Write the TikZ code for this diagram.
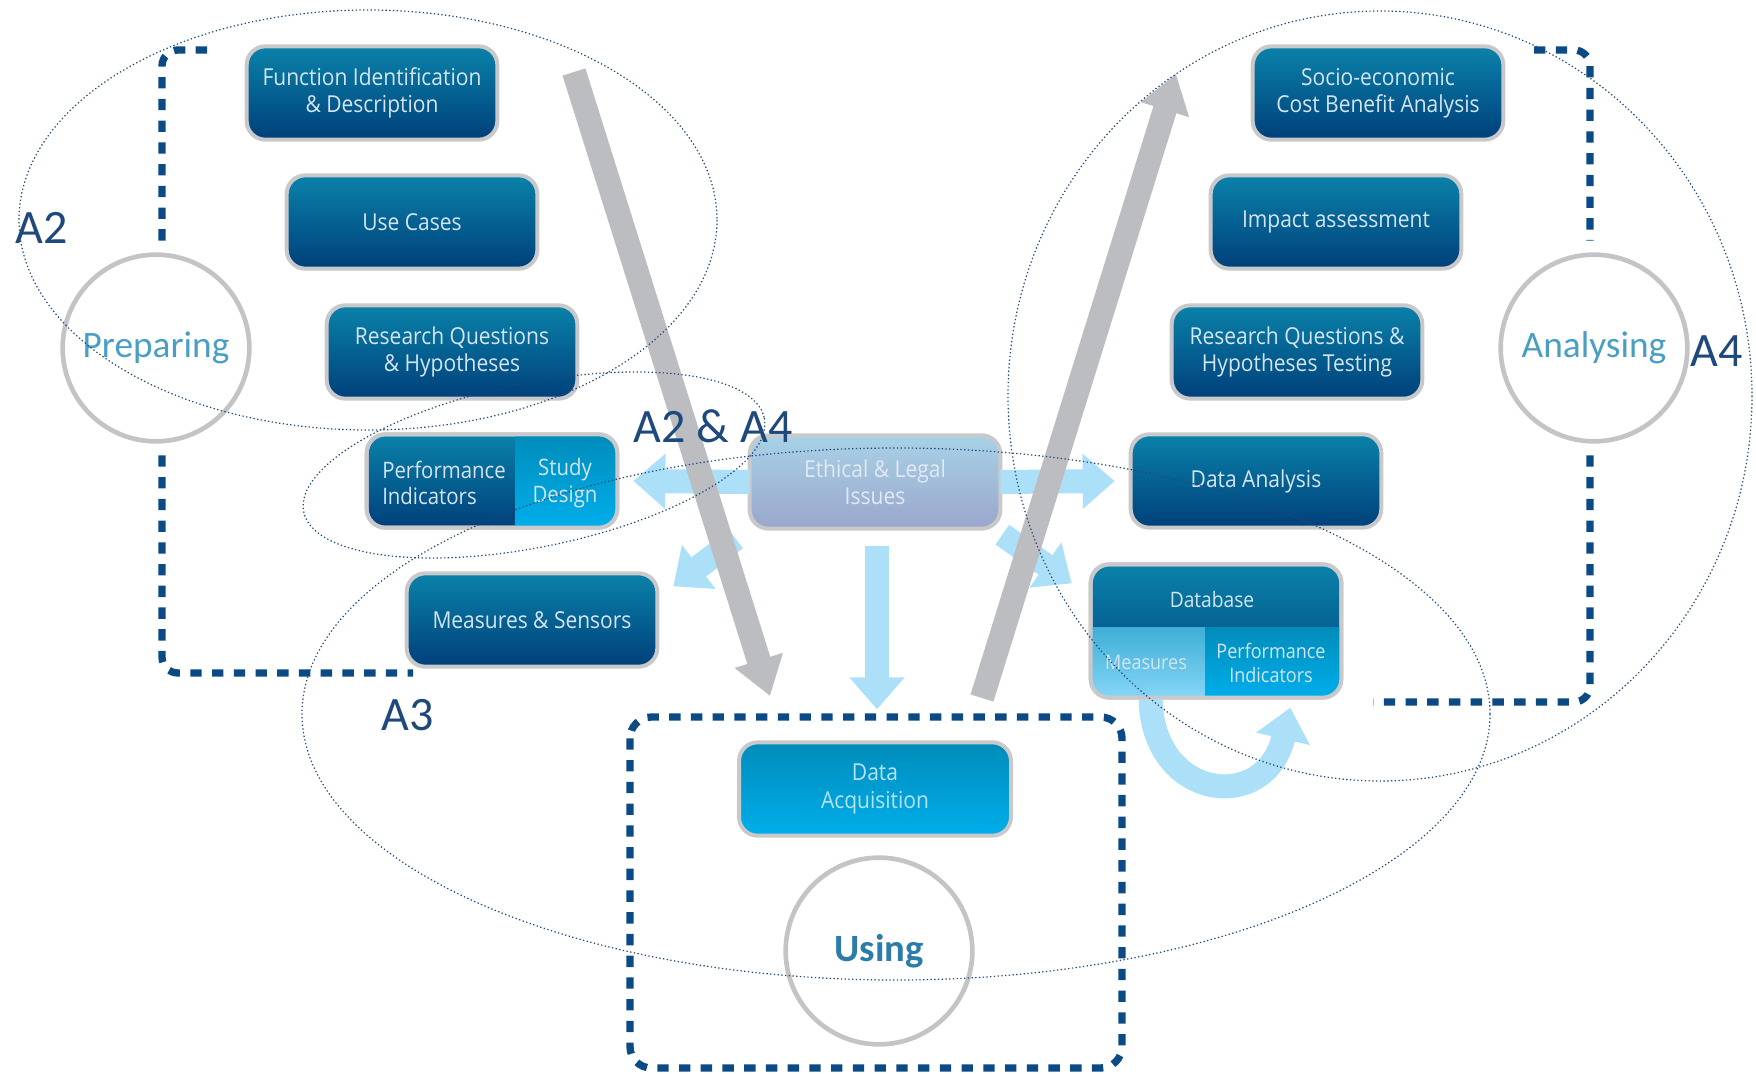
\documentclass[tikz,border=0pt]{standalone}
\usepackage{xcolor}
\usepackage{fontspec}
\usepackage{tikz}
\usetikzlibrary{arrows.meta,calc}

\newfontfamily\boxfont[FakeStretch=0.9]{Open Sans}
\newfontfamily\labfont{Carlito}

\definecolor{navytop}{HTML}{0A82AA}
\definecolor{navybot}{HTML}{003F7A}
\definecolor{cyantop}{HTML}{008CBA}
\definecolor{cyanbot}{HTML}{00AEEB}
\definecolor{paletop}{HTML}{A8D2E6}
\definecolor{palebot}{HTML}{9AA6CC}
\definecolor{skytop}{HTML}{3FAED6}
\definecolor{skybot}{HTML}{86D6F6}
\definecolor{rimgray}{HTML}{C9C9CB}
\definecolor{boxtext}{HTML}{D4E4F0}
\definecolor{paletext}{HTML}{E2E9F3}
\definecolor{acqtext}{HTML}{B8E2F4}
\definecolor{phaseblue}{HTML}{0B4A84}
\definecolor{zoneblue}{HTML}{1F497D}
\definecolor{ringgray}{HTML}{C4C4C6}
\definecolor{flowgray}{HTML}{BCBDC0}
\definecolor{flowblue}{HTML}{ABE0F8}
\definecolor{phasetext}{HTML}{4A9EC4}
\definecolor{usingtext}{HTML}{2C7CAA}

\tikzset{
    stage/.style={draw=rimgray, line width=3pt, rounded corners=14pt, outer sep=0pt,
        minimum width=188pt, minimum height=70pt, align=center, text=boxtext,
        font=\boxfont\fontsize{17.5}{20.5}\selectfont, top color=navytop, bottom color=navybot},
    rim/.style={draw=rimgray, line width=3pt, rounded corners=14pt},
    cell/.style={align=center, text=boxtext, inner sep=0pt, font=\boxfont\fontsize{15}{17.5}\selectfont},
    ring/.style={circle, draw=ringgray, line width=3.5pt, minimum size=140pt, outer sep=0pt,
        font=\labfont\fontsize{28}{30}\selectfont},
    zonelabel/.style={inner sep=0pt, text=zoneblue, font=\labfont\fontsize{36}{38}\selectfont},
    zone/.style={draw=zoneblue, line width=0.9pt, dash pattern=on 1pt off 1.8pt},
    phase/.style={draw=phaseblue, line width=5.5pt, dash pattern=on 8.5pt off 7.8pt, rounded corners=12pt},
    flowgrey/.style={draw=flowgray, line width=18pt, -{Triangle[width=36pt,length=28pt]}},
    flowsky/.style={draw=flowblue, line width=18pt, -{Triangle[width=40pt,length=24pt]}},
}

\begin{document}
\begin{tikzpicture}[x=0.75pt,y=0.75pt,yscale=-1,xscale=1]
    \useasboundingbox (0,0) rectangle (1756,1074);

        % preparing side
        \node[stage] (func) at (372,93) {Function Identification\\\& Description};
        \node[stage] (usecase) at (412,222) {Use Cases};
        \node[stage] (resq) at (452,352) {Research Questions\\\& Hypotheses};
        \node[stage] (perf) at (492,481) {};
        \node[stage] (measure) at (532,620) {Measures \& Sensors};

        % analysing side
        \node[stage] (socio) at (1378,93) {Socio-economic\\Cost Benefit Analysis};
        \node[stage] (impact) at (1336,222) {Impact assessment};
        \node[stage] (hyptest) at (1297,352) {Research Questions \&\\Hypotheses Testing};
        \node[stage] (analysis) at (1256,481) {Data Analysis};
        \node[stage, minimum height=100pt] (db) at (1216,631) {};

        % middle
        \node[stage, top color=paletop, bottom color=palebot, text=paletext] (ethic) at (875,482) {Ethical \& Legal\\Issues};
        \node[stage, minimum width=204pt, top color=cyantop, bottom color=cyanbot, text=acqtext] (acq) at (875,789) {Data\\Acquisition};

        % split cells
        \begin{scope}
            \clip[rounded corners=14pt] (perf.south west) rectangle (perf.north east);
            \shade[top color=cyantop, bottom color=cyanbot] ($(perf.north)+(23,0)$) rectangle (perf.south east);
        \end{scope}
        \draw[rim] (perf.south west) rectangle (perf.north east);
        \node[cell, anchor=west, align=left, font=\boxfont\fontsize{17}{20}\selectfont] (perftxt) at (382,483) {Performance\\Indicators};
        \node[cell, font=\boxfont\fontsize{17}{20}\selectfont] (studytxt) at (565,483) {Study\\Design};

        \begin{scope}
            \clip[rounded corners=14pt] (db.south west) rectangle (db.north east);
            \shade[top color=skytop, bottom color=skybot] (db.south west) rectangle ($(db.center)+(-11,-4)$);
            \shade[top color=cyantop, bottom color=cyanbot] ($(db.center)+(-11,-4)$) rectangle (db.south east);
        \end{scope}
        \draw[rim] (db.south west) rectangle (db.north east);
        \node[cell, font=\boxfont\fontsize{16}{18}\selectfont] (dbtxt) at (1212,599) {Database};
        \node[cell] (dbmeas) at (1146,662) {Measures};
        \node[cell] (dbperf) at (1271,663) {Performance\\Indicators};

        % light arrows
        \draw[flowsky] (ethic.west) -- ($(perf.east)+(16,0)$);
        \draw[flowsky] (ethic.east) -- ($(analysis.west)+(-16,0)$);
        \draw[flowsky] ($(ethic.south)+(2,17)$) -- ($(acq.north)+(2,-33)$);
        \draw[flowsky] ($(ethic.south west)+(-14,10)$) -- ($(measure.north east)+(16,13)$);
        \draw[flowsky] ($(ethic.south east)+(2,6)$) -- ($(db.north west)+(-19,19)$);
        \draw[flowsky] ($(db.south west)+(60,2)$) .. controls ($(db.south west)+(62,102)$) and ($(db.south east)+(-76,117)$) .. ($(db.south east)+(-51,10)$);

        % grey arrows
        \coordinate (downin) at (574,72);
        \coordinate (downout) at (770,696);
        \coordinate (upin) at (982,698);
        \coordinate (upout) at (1176,74);
        \draw[flowgrey] (downin) -- (downout);
        \draw[flowgrey] (upin) -- (upout);

        % phases
        \node[ring, text=phasetext] (prep) at (156,348) {Preparing};
        \node[ring, text=phasetext] (anal) at (1594,348) {Analysing};
        \node[ring, text=usingtext, font=\labfont\bfseries\fontsize{29}{31}\selectfont] (usin) at (879,951) {Using};

        \coordinate (ltop) at (207,50);
        \coordinate (lbot) at (413,673);
        \coordinate (rtop) at (1534,50);
        \coordinate (rbot) at (1373,702);
        \draw[phase] (ltop) -| ($(prep.north)+(6,-14)$);
        \draw[phase] ($(prep.south)+(6,14)$) |- (lbot);
        \draw[phase] (rtop) -| ($(anal.north)+(-4,-14)$);
        \draw[phase] ($(anal.south)+(-4,14)$) |- (rbot);
        \draw[phase, rounded corners=16pt] (630,717) rectangle (1122,1068);

        % zones
        \draw[zone] (368,220) ellipse [x radius=349, y radius=210];
        \draw[zone, rotate around={-11.5:(534,465)}] (534,465) ellipse [x radius=235, y radius=82];
        \draw[zone] (896,714) ellipse [x radius=594, y radius=266];
        \draw[zone] (1380,396) ellipse [x radius=372, y radius=385];

        \node[zonelabel] (lblAtwo) at (42,228) {A2};
        \node[zonelabel] (lblAboth) at (713,426) {A2 \& A4};
        \node[zonelabel] (lblAthree) at (408,715) {A3};
        \node[zonelabel] (lblAfour) at (1717,351) {A4};
    \end{tikzpicture}
\end{document}
